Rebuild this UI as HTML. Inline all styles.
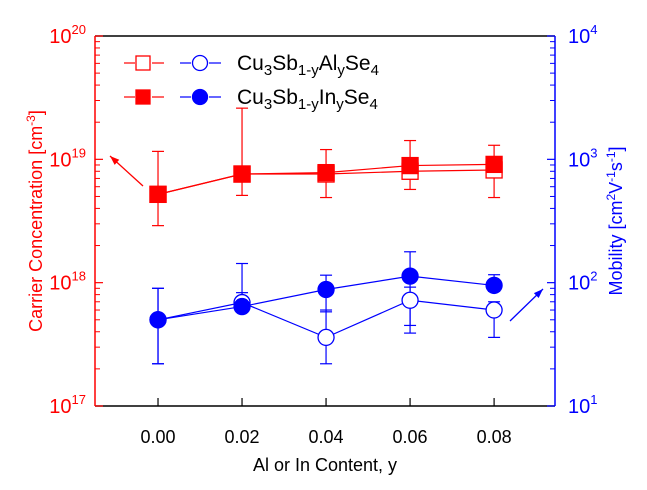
<!DOCTYPE html>
<html><head><meta charset="utf-8"><style>
html,body{margin:0;padding:0;background:#fff;}
svg{display:block;font-family:"Liberation Sans",Arial,sans-serif;}
</style></head><body>
<svg id="chart" width="647" height="490" viewBox="0 0 647 490"></svg>
<script>
const xValues=[0.00,0.02,0.04,0.06,0.08];
const xTickLabels=["0.00","0.02","0.04","0.06","0.08"];
const carrierAl=[5.2e18,7.6e18,7.6e18,8.0e18,8.2e18];
const carrierIn=[5.2e18,7.6e18,7.8e18,8.9e18,9.1e18];
const carrierErrLow=[2.9e18,5.1e18,4.9e18,5.7e18,4.9e18];
const carrierErrHigh=[1.16e19,2.6e19,1.2e19,1.42e19,1.3e19];
const mobilityAl=[50,69,36,72,60];
const mobilityIn=[50,64,88,113,95];
const mobilityAlErrLow=[22,62,22,39,36];
const mobilityAlErrHigh=[90,83,60,92,70];
const mobilityInErrLow=[22,60,58,45,85];
const mobilityInErrHigh=[90,143,115,178,116];
const leftDecades=[17,18,19,20];
const rightDecades=[1,2,3,4];

const svg=document.getElementById('chart');
const NS='http://www.w3.org/2000/svg';
const L=95,R=555,T=36,B=406;
const xMin=-0.015,xMax=0.0945;
function sx(v){return L+(v-xMin)/(xMax-xMin)*(R-L);}
function syL(v){return B-(Math.log10(v)-17)/3*(B-T);}
function syR(v){return B-(Math.log10(v)-1)/3*(B-T);}
function mk(tag,attrs,parent){const e=document.createElementNS(NS,tag);for(const k in attrs)e.setAttribute(k,attrs[k]);(parent||svg).appendChild(e);return e;}
const RED='#ff0000',BLUE='#0000ff';

let e;
e=mk('line',{x1:L,y1:T,x2:R,y2:T,stroke:'#000','stroke-width':1.5});

e=mk('line',{x1:L,y1:B,x2:R,y2:B,stroke:'#000','stroke-width':1.5});

e=mk('line',{x1:L,y1:T,x2:L,y2:B,stroke:RED,'stroke-width':1.5});

e=mk('line',{x1:R,y1:T,x2:R,y2:B,stroke:BLUE,'stroke-width':1.5});


xValues.forEach((v,i)=>{
  const x=sx(v);
  let t=mk('line',{x1:x,y1:B,x2:x,y2:B-8,stroke:'#000','stroke-width':1.2});
  
  let lb=mk('text',{x:x,y:443,'text-anchor':'middle','font-size':18,fill:'#000'});
  lb.textContent=xTickLabels[i];
  
});

function logTicks(decades,scale,xAxis,dir,color,labelX,anchor,side){
  decades.forEach((d,i)=>{
    const y=scale(Math.pow(10,d));
    let t=mk('line',{x1:xAxis,y1:y,x2:xAxis+dir*8,y2:y,stroke:color,'stroke-width':1.2});
    
    const g=mk('text',{x:labelX,y:y+7,'text-anchor':anchor,'font-size':20,fill:color});
    
    const a=document.createElementNS(NS,'tspan');a.textContent='10';g.appendChild(a);
    const b=document.createElementNS(NS,'tspan');b.setAttribute('dy','-9');b.setAttribute('font-size','13');b.textContent=String(d);g.appendChild(b);
    if(i<decades.length-1){
      for(let m=2;m<=9;m++){
        const yy=scale(m*Math.pow(10,d));
        let mt=mk('line',{x1:xAxis,y1:yy,x2:xAxis+dir*5,y2:yy,stroke:color,'stroke-width':1});
        
      }
    }
  });
}
logTicks(leftDecades,syL,L,1,RED,86,'end','left');
logTicks(rightDecades,syR,R,-1,BLUE,568,'start','right');

function errBars(lo,hi,scale,color,name){
  xValues.forEach((v,i)=>{
    const x=sx(v),y1=scale(lo[i]),y2=scale(hi[i]);
    let l=mk('line',{x1:x,y1:y1,x2:x,y2:y2,stroke:color,'stroke-width':1.2});
    
    [y1,y2].forEach(y=>{let c=mk('line',{x1:x-6,y1:y,x2:x+6,y2:y,stroke:color,'stroke-width':1.2});
      });
  });
}
errBars(carrierErrLow,carrierErrHigh,syL,RED,'carrier-error-bar');
errBars(mobilityAlErrLow,mobilityAlErrHigh,syR,BLUE,'mobility-al-error-bar');
errBars(mobilityInErrLow,mobilityInErrHigh,syR,BLUE,'mobility-in-error-bar');

function series(vals,scale,color,name){
  const pts=xValues.map((v,i)=>sx(v)+','+scale(vals[i])).join(' ');
  let p=mk('polyline',{points:pts,fill:'none',stroke:color,'stroke-width':1.2});
  
}
series(carrierAl,syL,RED,'carrier-al-line');
series(carrierIn,syL,RED,'carrier-in-line');
series(mobilityAl,syR,BLUE,'mobility-al-line');
series(mobilityIn,syR,BLUE,'mobility-in-line');

function squares(vals,filled,name){
  xValues.forEach((v,i)=>{
    let r=mk('rect',{x:sx(v)-8,y:syL(vals[i])-8,width:16,height:16,fill:filled?RED:'#fff',stroke:RED,'stroke-width':1.3});
    
  });
}
function circles(vals,filled,name){
  xValues.forEach((v,i)=>{
    let c=mk('circle',{cx:sx(v),cy:syR(vals[i]),r:8,fill:filled?BLUE:'#fff',stroke:BLUE,'stroke-width':1.3});
    
  });
}
squares(carrierAl,false,'carrier-al-point');
squares(carrierIn,true,'carrier-in-point');
circles(mobilityAl,false,'mobility-al-point');
circles(mobilityIn,true,'mobility-in-point');

function arrow(x1,y1,x2,y2,color,name){
  const g=mk('g',{});
  
  mk('line',{x1:x1,y1:y1,x2:x2,y2:y2,stroke:color,'stroke-width':1.3},g);
  const a=Math.atan2(y2-y1,x2-x1),s=10;
  const p1=[x2-s*Math.cos(a-0.35),y2-s*Math.sin(a-0.35)],p2=[x2-s*Math.cos(a+0.35),y2-s*Math.sin(a+0.35)];
  mk('polygon',{points:`${x2},${y2} ${p1} ${p2}`,fill:color},g);
}
arrow(143,186,110,156,RED,'left-axis-arrow');
arrow(510,321,543,289,BLUE,'right-axis-arrow');

function legendRow(y,filled,label,name){
  const g=mk('g',{});
  
  mk('line',{x1:124,y1:y,x2:135,y2:y,stroke:RED,'stroke-width':1.2},g);
  mk('line',{x1:152,y1:y,x2:164,y2:y,stroke:RED,'stroke-width':1.2},g);
  mk('rect',{x:136,y:y-7,width:14,height:14,fill:filled?RED:'#fff',stroke:RED,'stroke-width':1.3},g);
  mk('line',{x1:180,y1:y,x2:191,y2:y,stroke:BLUE,'stroke-width':1.2},g);
  mk('line',{x1:209,y1:y,x2:221,y2:y,stroke:BLUE,'stroke-width':1.2},g);
  mk('circle',{cx:200,cy:y,r:7.5,fill:filled?BLUE:'#fff',stroke:BLUE,'stroke-width':1.3},g);
  const t=mk('text',{x:237,y:y+7,'font-size':21,fill:'#000'},g);
  label.forEach(([s,sub])=>{const ts=document.createElementNS(NS,'tspan');ts.textContent=s;
    if(sub){ts.setAttribute('font-size','15');ts.setAttribute('dy','5');}
    else{ts.setAttribute('dy',t.childNodes.length?'-5':'0');}
    t.appendChild(ts);});
}
legendRow(63,false,[['Cu'],['3',1],['Sb'],['1-y',1],['Al'],['y',1],['Se'],['4',1]],'legend-al');
legendRow(97,true,[['Cu'],['3',1],['Sb'],['1-y',1],['In'],['y',1],['Se'],['4',1]],'legend-in');

let xt=mk('text',{x:325,y:471,'text-anchor':'middle','font-size':18,fill:'#000'});
xt.textContent='Al or In Content, y';


let lt=mk('text',{x:0,y:0,'text-anchor':'middle','font-size':18,fill:RED,transform:'translate(42,221) rotate(-90)'});

lt.innerHTML='<tspan>Carrier Concentration [cm</tspan><tspan dy="-7" font-size="12">-3</tspan><tspan dy="7">]</tspan>';

let rt=mk('text',{x:0,y:0,'text-anchor':'middle','font-size':18,fill:BLUE,transform:'translate(622,221) rotate(-90)'});

rt.innerHTML='<tspan>Mobility [cm</tspan><tspan dy="-7" font-size="12">2</tspan><tspan dy="7">V</tspan><tspan dy="-7" font-size="12">-1</tspan><tspan dy="7">s</tspan><tspan dy="-7" font-size="12">-1</tspan><tspan dy="7">]</tspan>';
</script>
</body></html>
